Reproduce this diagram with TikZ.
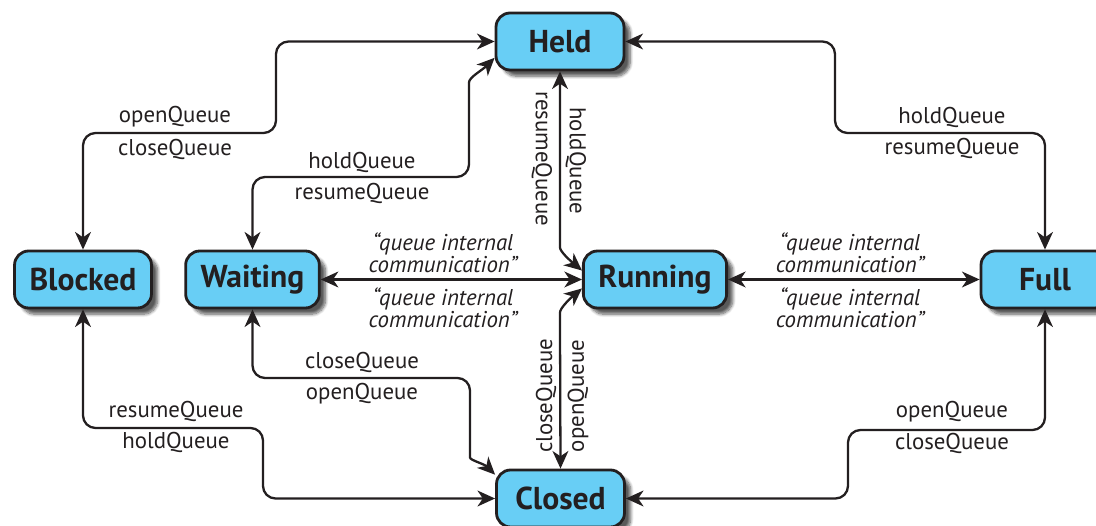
\documentclass[tikz,border=0pt]{standalone}
\usepackage{fontspec}
\setsansfont{PT Sans}
\usetikzlibrary{arrows.meta,shadows.blur}
\definecolor{stateblue}{RGB}{104,206,245}
\definecolor{inkdark}{RGB}{35,31,32}

\begin{document}
\begin{tikzpicture}[x=0.02cm, y=0.02cm,
    every node/.style={font=\sffamily, text=inkdark},
    state/.style={draw=inkdark, fill=stateblue, line width=1.6pt, rounded corners=8pt, minimum width=2.56cm, minimum height=1.14cm, inner xsep=0.3cm, font=\sffamily\bfseries\fontsize{18}{20}\selectfont, blur shadow={shadow xshift=3.5pt, shadow yshift=-3.5pt, shadow blur steps=8, shadow opacity=65}},
    lbl/.style={font=\sffamily\fontsize{13}{15}\selectfont, inner sep=0pt},
    msg/.style={font=\sffamily\itshape\fontsize{13}{11.4}\selectfont, align=center, inner sep=0pt},
    link/.style={draw=inkdark, line width=1.3pt, rounded corners=0.25cm, {Stealth[length=10pt,width=9pt,inset=3pt]}-{Stealth[length=10pt,width=9pt,inset=3pt]}}]
    \useasboundingbox (0,0) rectangle (1096,-526);

    % states
    \node[state] (held) at (560,-41.5) {Held};
    \node[state] (blocked) at (83,-279.5) {Blocked};
    \node[state] (waiting) at (252.5,-279.5) {Waiting};
    \node[state] (running) at (655,-279.5) {Running};
    \node[state] (full) at (1045,-279.5) {Full};
    \node[state] (closed) at (560.5,-498.5) {Closed};

    % upper connectors
    \draw[link] (held.west) -| (276,-133) -| (blocked.north);
    \draw[link] (waiting.north) |- (469,-177) -- (469,-95) to[out=90, in=225] (held.194);
    \draw[link] (held.east) -| (835,-133) -| (full.north);
    \draw[link] (held.south) -- (560,-235) to[out=-90, in=140] (running.173);

    % middle connectors
    \draw[link] (waiting.east) -- (running.west);
    \draw[link] (running.east) -- (full.west);

    % lower connectors
    \draw[link] (blocked.south) |- (263,-428) |- (closed.west);
    \draw[link] (waiting.south) |- (470,-378) -- (470,-445) to[out=-90, in=135] (closed.160);
    \draw[link] (full.south) |- (848,-430) |- (closed.east);
    \draw[link] (closed.north) -- (560,-325) to[out=90, in=-140] (running.187);

    % labels
    \node[lbl] (openBH) at (175,-117) {openQueue};
    \node[lbl] (closeBH) at (175,-149) {closeQueue};
    \node[lbl] (holdWH) at (362,-162) {holdQueue};
    \node[lbl] (resumeWH) at (362,-193) {resumeQueue};
    \node[lbl] (holdFH) at (952,-117) {holdQueue};
    \node[lbl] (resumeFH) at (952,-148) {resumeQueue};
    \node[lbl, rotate=-90] (resumeRH) at (542,-159) {resumeQueue};
    \node[lbl, rotate=-90] (holdRH) at (576,-161) {holdQueue};
    \node[lbl, rotate=90] (closeRC) at (546,-396) {closeQueue};
    \node[lbl, rotate=90] (openRC) at (578,-396) {openQueue};
    \node[lbl] (closeWC) at (362,-362) {closeQueue};
    \node[lbl] (openWC) at (362,-394) {openQueue};
    \node[lbl] (resumeBC) at (176,-411) {resumeQueue};
    \node[lbl] (holdBC) at (176,-442) {holdQueue};
    \node[lbl] (openFC) at (952,-412) {openQueue};
    \node[lbl] (closeFC) at (952,-443) {closeQueue};
    \node[msg] (msgWR1) at (443,-253) {``queue internal\\communication''};
    \node[msg] (msgWR2) at (443,-308) {``queue internal\\communication''};
    \node[msg] (msgRF1) at (850,-253) {``queue internal\\communication''};
    \node[msg] (msgRF2) at (850,-308) {``queue internal\\communication''};
\end{tikzpicture}
\end{document}
